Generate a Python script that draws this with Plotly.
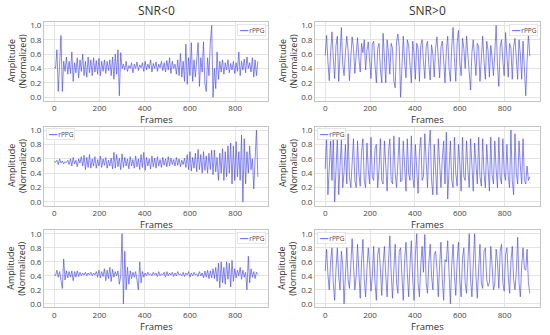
import plotly.graph_objects as go

# ---------------- data ----------------
step_left = 6
step_right = 6

snr_neg_1 = [
    0.42, 0.40, 0.66, 0.08, 0.46, 0.86, 0.08, 0.50, 0.36, 0.56,
    0.32, 0.50, 0.33, 0.63, 0.22, 0.48, 0.34, 0.55, 0.27, 0.52,
    0.36, 0.60, 0.30, 0.50, 0.28, 0.56, 0.34, 0.52, 0.30, 0.55,
    0.35, 0.51, 0.32, 0.54, 0.30, 0.50, 0.36, 0.52, 0.33, 0.50,
    0.37, 0.52, 0.30, 0.56, 0.25, 0.60, 0.32, 0.66, 0.02, 0.62,
    0.40, 0.46, 0.38, 0.50, 0.36, 0.44, 0.40, 0.48, 0.34, 0.46,
    0.40, 0.49, 0.37, 0.45, 0.41, 0.48, 0.36, 0.50, 0.38, 0.46,
    0.40, 0.52, 0.35, 0.47, 0.40, 0.49, 0.36, 0.46, 0.41, 0.50,
    0.37, 0.48, 0.35, 0.51, 0.38, 0.55, 0.33, 0.50, 0.40, 0.46,
    0.32, 0.52, 0.30, 0.61, 0.28, 0.50, 0.22, 0.74, 0.18, 0.55,
    0.30, 0.76, 0.22, 0.52, 0.28, 0.60, 0.76, 0.15, 0.55, 0.35,
    0.77, 0.20, 0.08, 0.55, 0.30, 0.75, 1.00, 0.00, 0.40, 0.12,
    0.63, 0.25, 0.50, 0.35, 0.52, 0.32, 0.48, 0.38, 0.52, 0.34,
    0.47, 0.38, 0.50, 0.33, 0.48, 0.36, 0.63, 0.30, 0.50, 0.38,
    0.53, 0.34, 0.56, 0.40, 0.48, 0.35, 0.55, 0.28, 0.52, 0.30,
    0.50,
]

snr_neg_2 = [
    0.57, 0.55, 0.58, 0.52, 0.60, 0.54, 0.57, 0.53, 0.56, 0.55,
    0.58, 0.52, 0.60, 0.50, 0.62, 0.53, 0.58, 0.49, 0.60, 0.54,
    0.63, 0.50, 0.65, 0.45, 0.62, 0.48, 0.66, 0.47, 0.60, 0.50,
    0.63, 0.47, 0.59, 0.50, 0.64, 0.48, 0.60, 0.51, 0.62, 0.47,
    0.58, 0.50, 0.61, 0.46, 0.69, 0.47, 0.66, 0.49, 0.61, 0.45,
    0.67, 0.48, 0.62, 0.50, 0.60, 0.46, 0.63, 0.50, 0.59, 0.47,
    0.64, 0.49, 0.60, 0.45, 0.66, 0.48, 0.69, 0.44, 0.62, 0.50,
    0.60, 0.46, 0.64, 0.49, 0.61, 0.47, 0.63, 0.50, 0.59, 0.48,
    0.62, 0.51, 0.60, 0.49, 0.63, 0.50, 0.61, 0.52, 0.59, 0.50,
    0.62, 0.51, 0.60, 0.49, 0.58, 0.52, 0.61, 0.48, 0.66, 0.45,
    0.70, 0.43, 0.62, 0.47, 0.68, 0.42, 0.73, 0.45, 0.66, 0.40,
    0.70, 0.44, 0.64, 0.40, 0.68, 0.45, 0.72, 0.38, 0.72, 0.42,
    0.62, 0.30, 0.68, 0.40, 0.74, 0.30, 0.70, 0.35, 0.78, 0.40,
    0.82, 0.25, 0.78, 0.30, 0.84, 0.35, 0.70, 0.30, 0.93, 0.00,
    0.88, 0.25, 0.70, 0.40, 0.78, 0.45, 0.60, 0.18, 0.60, 1.00,
    0.35,
]

snr_neg_3 = [
    0.42, 0.40, 0.48, 0.38, 0.46, 0.36, 0.22, 0.64, 0.34, 0.47,
    0.37, 0.46, 0.38, 0.47, 0.33, 0.46, 0.38, 0.47, 0.39, 0.45,
    0.40, 0.44, 0.41, 0.45, 0.40, 0.44, 0.41, 0.45, 0.40, 0.44,
    0.41, 0.46, 0.38, 0.48, 0.37, 0.46, 0.39, 0.50, 0.33, 0.48,
    0.36, 0.52, 0.32, 0.49, 0.38, 0.46, 0.40, 0.47, 0.28, 0.40,
    1.00, 0.00, 0.75, 0.20, 0.52, 0.28, 0.47, 0.36, 0.45, 0.38,
    0.46, 0.34, 0.20, 0.60, 0.30, 0.46, 0.38, 0.44, 0.40, 0.45,
    0.41, 0.43, 0.40, 0.45, 0.41, 0.44, 0.39, 0.46, 0.40, 0.43,
    0.41, 0.45, 0.38, 0.46, 0.40, 0.44, 0.41, 0.45, 0.39, 0.44,
    0.40, 0.46, 0.41, 0.43, 0.40, 0.45, 0.39, 0.44, 0.41, 0.46,
    0.38, 0.44, 0.40, 0.45, 0.41, 0.43, 0.39, 0.46, 0.40, 0.44,
    0.37, 0.47, 0.38, 0.48, 0.36, 0.47, 0.37, 0.50, 0.36, 0.52,
    0.32, 0.58, 0.23, 0.60, 0.30, 0.52, 0.28, 0.60, 0.35, 0.58,
    0.24, 0.62, 0.32, 0.50, 0.37, 0.48, 0.40, 0.52, 0.35, 0.48,
    0.38, 0.45, 0.20, 0.68, 0.30, 0.50, 0.38, 0.46, 0.36, 0.45,
    0.42,
]

snr_pos_1 = [
    0.58, 0.86, 0.50, 0.23, 0.62, 0.91, 0.55, 0.26, 0.72, 0.85,
    0.22, 0.60, 0.97, 0.45, 0.30, 0.62, 0.85, 0.65, 0.23, 0.55,
    0.84, 0.68, 0.33, 0.60, 0.83, 0.55, 0.35, 0.75, 0.62, 0.80,
    0.38, 0.65, 0.77, 0.50, 0.26, 0.74, 0.78, 0.45, 0.20, 0.68,
    0.75, 0.40, 0.20, 0.89, 0.55, 0.20, 0.80, 0.62, 0.32, 0.75,
    0.68, 0.22, 0.13, 0.77, 0.88, 0.70, 0.00, 0.55, 0.85, 0.50,
    0.27, 0.80, 0.72, 0.45, 0.20, 0.78, 0.60, 0.25, 0.75, 0.68,
    0.22, 0.72, 0.80, 0.50, 0.26, 0.70, 0.78, 0.45, 0.24, 0.73,
    0.60, 0.28, 0.68, 0.84, 0.45, 0.27, 0.70, 0.78, 0.52, 0.20,
    0.66, 0.85, 0.40, 0.22, 0.70, 0.97, 0.55, 0.22, 0.75, 0.93,
    0.50, 0.30, 0.82, 0.68, 0.40, 0.85, 0.60, 0.35, 0.10, 0.62,
    0.80, 0.55, 0.30, 0.75, 0.70, 0.22, 0.65, 0.85, 0.50, 0.25,
    0.78, 0.65, 0.28, 0.72, 0.55, 0.30, 0.60, 1.00, 0.45, 0.15,
    0.70, 0.80, 0.50, 0.30, 0.90, 0.60, 0.28, 0.75, 0.68, 0.25,
    0.70, 0.82, 0.45, 0.25, 0.80, 0.60, 0.25, 0.78, 0.40, 0.02,
    0.50, 0.88, 0.57,
]

snr_pos_2 = [
    0.46, 0.90, 0.10, 0.50, 0.85, 0.30, 0.90, 0.00, 0.55, 0.90,
    0.10, 0.45, 0.88, 0.20, 0.42, 0.80, 0.25, 0.95, 0.35, 0.20,
    0.55, 0.88, 0.30, 0.20, 0.85, 0.40, 0.22, 0.70, 0.88, 0.30,
    0.20, 0.82, 0.45, 0.25, 0.90, 0.35, 0.30, 0.75, 0.80, 0.20,
    0.45, 0.88, 0.30, 0.25, 0.85, 0.50, 0.15, 0.70, 0.88, 0.30,
    0.25, 0.92, 0.40, 0.20, 0.60, 0.90, 0.28, 0.30, 0.85, 0.45,
    0.15, 0.88, 0.40, 0.30, 0.92, 0.35, 0.20, 0.80, 0.50, 0.12,
    0.70, 0.90, 0.30, 0.35, 0.95, 0.45, 0.20, 0.75, 1.00, 0.30,
    0.10, 0.80, 0.40, 0.10, 0.88, 0.45, 0.20, 0.60, 0.85, 0.25,
    0.97, 0.04, 0.50, 0.85, 0.30, 0.20, 0.90, 0.40, 0.22, 0.80,
    0.55, 0.15, 0.90, 0.35, 0.30, 0.85, 0.45, 0.20, 0.88, 0.40,
    0.15, 0.82, 0.45, 0.25, 0.90, 0.35, 0.22, 0.88, 0.40, 0.20,
    0.80, 0.45, 0.15, 0.90, 0.38, 0.25, 0.85, 0.45, 0.20, 0.90,
    0.35, 0.25, 0.88, 0.40, 0.30, 0.80, 0.35, 0.20, 1.00, 0.30,
    0.10, 0.95, 0.40, 0.25, 0.85, 0.50, 0.25, 0.88, 0.30, 0.25,
    0.50, 0.30, 0.35,
]

snr_pos_3 = [
    0.47, 0.78, 0.42, 0.20, 0.60, 0.80, 0.30, 0.05, 0.50, 0.80,
    0.40, 0.20, 0.75, 0.55, 0.00, 0.45, 0.80, 0.35, 0.22, 0.55,
    0.93, 0.55, 0.20, 0.40, 0.85, 0.45, 0.08, 0.60, 0.92, 0.35,
    0.10, 0.50, 0.80, 0.55, 0.18, 0.40, 0.82, 0.30, 0.05, 0.70,
    0.80, 0.50, 0.12, 0.55, 0.82, 0.40, 0.10, 0.60, 0.97, 0.45,
    0.08, 0.50, 0.85, 0.30, 0.15, 0.75, 0.80, 0.40, 0.05, 0.62,
    0.88, 0.45, 0.10, 0.55, 0.90, 0.35, 0.05, 0.70, 1.00, 0.30,
    0.10, 0.55, 0.82, 0.45, 0.99, 0.30, 0.15, 0.60, 0.85, 0.40,
    0.20, 0.70, 0.75, 0.50, 0.10, 0.55, 0.88, 0.35, 0.05, 0.63,
    0.60, 0.90, 0.30, 0.00, 0.55, 0.85, 0.40, 0.12, 0.60, 0.88,
    0.35, 0.10, 0.65, 0.80, 0.30, 0.15, 0.60, 1.00, 0.35, 0.10,
    0.55, 1.00, 0.40, 0.08, 0.50, 0.85, 0.30, 0.22, 0.75, 0.80,
    0.35, 0.25, 0.30, 0.82, 0.55, 0.20, 0.28, 0.78, 0.60, 0.22,
    0.75, 0.85, 0.30, 0.18, 0.70, 0.80, 0.40, 0.15, 0.60, 0.82,
    0.35, 0.20, 0.45, 0.95, 0.30, 0.10, 0.55, 0.80, 0.50, 0.48,
    0.78, 0.30, 0.15,
]

x_ticks = [0, 200, 400, 600, 800]
y_ticks = [0.0, 0.2, 0.4, 0.6, 0.8, 1.0]
column_titles = ["SNR<0", "SNR>0"]
series_name = "rPPG"

# ---------------- layout ----------------
W, H = 550, 335
LINE = "rgba(75,75,255,0.75)"
FONT = "Open Sans"

col_dom = {"L": (44 / W, 268 / W), "R": (315 / W, 540 / W)}
row_px = [(19, 99), (125, 205), (230, 308)]

panels = [
    # (values, step, col, row, legend side)
    (snr_neg_1, step_left, "L", 0, "right"),
    (snr_pos_1, step_right, "R", 0, "right"),
    (snr_neg_2, step_left, "L", 1, "left"),
    (snr_pos_2, step_right, "R", 1, "left"),
    (snr_neg_3, step_left, "L", 2, "right"),
    (snr_pos_3, step_right, "R", 2, "left"),
]

fig = go.Figure()
annotations = []
layout = {}

for k, (vals, step, col, row, lside) in enumerate(panels):
    idx = "" if k == 0 else str(k + 1)
    frames = [step * i for i in range(len(vals))]
    fig.add_trace(go.Scatter(
        x=frames, y=vals, mode="lines", name=series_name,
        line=dict(color=LINE, width=0.9), showlegend=False,
        xaxis="x" + idx, yaxis="y" + idx, hoverinfo="skip",
    ))
    xmax = frames[-1]
    pad = xmax * 0.05
    top_px, bot_px = row_px[row]
    ydom = (1 - bot_px / H, 1 - top_px / H)
    axis_common = dict(
        showline=True, mirror=True, linecolor="#c4c4c4", linewidth=1,
        showgrid=True, gridcolor="#e3e3e3", gridwidth=1, zeroline=False,
        ticks="", tickfont=dict(family=FONT, size=8, color="#444"),
    )
    layout["xaxis" + idx] = dict(
        domain=col_dom[col], anchor="y" + idx, range=[-pad, xmax + pad],
        tickvals=x_ticks, **axis_common,
    )
    layout["yaxis" + idx] = dict(
        domain=ydom, anchor="x" + idx, range=[-0.05, 1.05],
        tickvals=y_ticks, tickformat=".1f", **axis_common,
    )
    x0, x1 = col_dom[col]
    xc = (x0 + x1) / 2
    # x-axis title
    annotations.append(dict(
        text="Frames", xref="paper", yref="paper", x=xc,
        y=1 - (bot_px + 19) / H, xanchor="center", yanchor="middle",
        showarrow=False, font=dict(family=FONT, size=9.5, color="#333"),
    ))
    # y-axis title (two lines)
    yc = 1 - (top_px + bot_px) / 2 / H
    base_x = 11 if col == "L" else 282
    for j, t in enumerate(["Amplitude", "(Normalized)"]):
        annotations.append(dict(
            text=t, xref="paper", yref="paper", x=(base_x + 11 * j) / W,
            y=yc, xanchor="center", yanchor="middle", textangle=-90,
            showarrow=False, font=dict(family=FONT, size=9, color="#333"),
        ))
    # legend box
    leg_text = ("<span style='color:%s'>━━</span> %s" % (LINE, series_name))
    if lside == "right":
        lx, lxa = (x1 * W - 2) / W, "right"
    else:
        lx, lxa = (x0 * W + 2) / W, "left"
    annotations.append(dict(
        text=leg_text, xref="paper", yref="paper", x=lx,
        y=1 - (top_px + 2) / H, xanchor=lxa, yanchor="top", showarrow=False,
        font=dict(family=FONT, size=6.5, color="#444"),
        bgcolor="white", bordercolor="#d6d6d6", borderwidth=0.6, borderpad=1,
    ))

for c, title in zip(["L", "R"], column_titles):
    x0, x1 = col_dom[c]
    annotations.append(dict(
        text=title, xref="paper", yref="paper", x=(x0 + x1) / 2,
        y=1 - 8 / H, xanchor="center", yanchor="middle", showarrow=False,
        font=dict(family=FONT, size=12, color="#333"),
    ))

fig.update_layout(
    width=W, height=H, margin=dict(l=0, r=0, t=0, b=0),
    paper_bgcolor="white", plot_bgcolor="white",
    annotations=annotations, showlegend=False, **layout,
)

fig.write_html(
    "out.html",
    config={"displayModeBar": False},
    post_script="document.body.style.margin='0';document.body.style.overflow='hidden';",
)
